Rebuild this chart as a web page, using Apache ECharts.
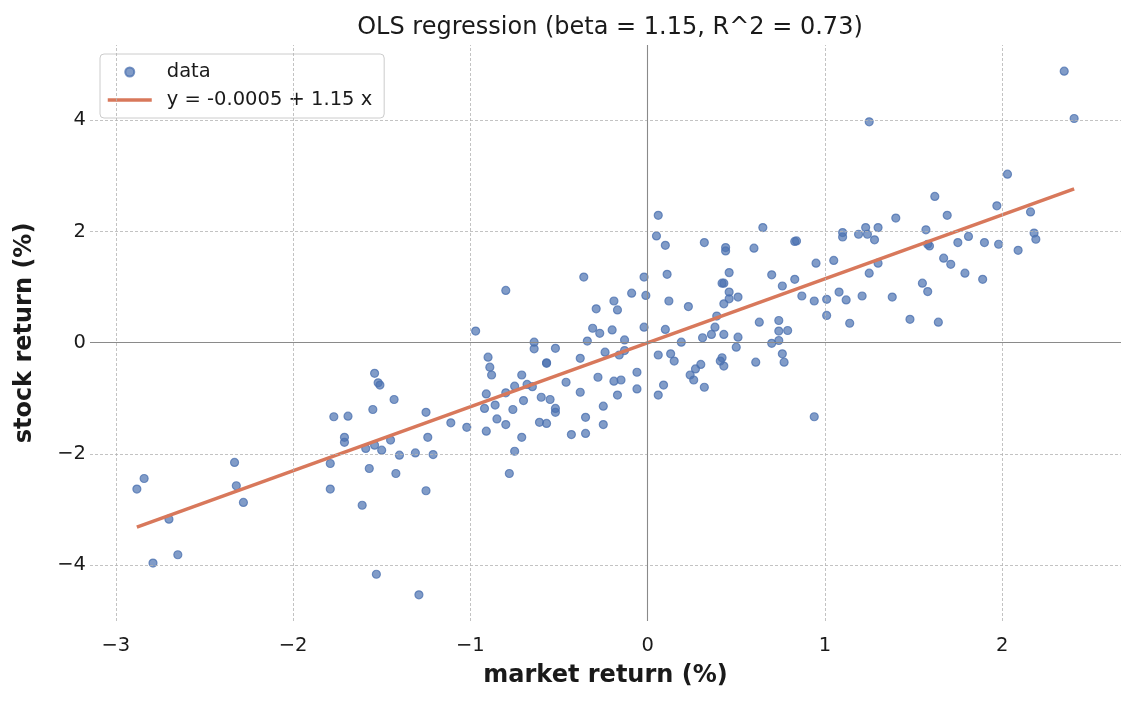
<!DOCTYPE html>
<html>
<head>
<meta charset="utf-8">
<script src="https://cdn.jsdelivr.net/npm/echarts@6/dist/echarts.min.js"></script>
<style>
  html, body { margin: 0; padding: 0; background: #fff; }
  #chart { width: 1135px; height: 701px; }
</style>
</head>
<body>
<div id="chart"></div>
<script>
var marketReturn = [
  1.25, 0.06, 0.65, 1.23, 1.30, 2.35, 2.406, 2.03, 1.62, 1.97, 2.16, 1.69, 1.40, 1.57,
  0.05, 0.10, 0.32, 0.44, 0.44, 0.60, 0.83, 0.84, 1.10, 1.10, 1.19, 1.24, 1.28, 1.30,
  0.95, 1.05, -0.02, 0.11, 0.46, 0.42, 0.43, 0.70, 0.83, 0.76, -0.09, -0.01, -0.17,
  0.12, 0.23, 0.46, 0.46, 0.43, 0.51, 0.87, 0.94, 1.01, 1.08, 1.12, 1.21, 1.25, 1.01,
  1.14, 0.39, 0.38, 0.36, 0.43, 0.31, 0.51, 0.19, 0.10, -0.02, -0.13, -0.13, -0.16,
  0.63, 0.74, 0.74, 0.79, 0.74, 0.70, 0.50, 0.76, 0.77, 0.61, 0.06, 0.13, 0.15, 0.30,
  0.27, 0.24, 0.26, 0.42, 0.41, 0.43, 0.32, 0.09, 0.06, -0.06, -0.06, -0.15, -0.17,
  0.94, -0.36, -0.80, -0.19, -0.29, -0.31, -0.27, -0.20, -0.34, -0.97, -0.64, -0.64,
  -0.52, -0.90, -0.89, -0.88, -0.57, -0.57, -0.38, -0.24, -0.28, -0.19, -0.46, -0.71,
  -0.75, -0.68, -0.65, -0.80, -0.91, -0.38, -0.60, -0.55, -0.70, -0.86, -0.52, -0.52,
  -0.25, -0.92, -0.76, -0.35, -1.54, -1.52, -1.51, -1.43, -1.55, -1.25, -0.85, -0.61,
  -0.57, -1.11, -1.02, -0.91, -0.80, -0.71, -0.75, -0.78, -0.43, -0.35, -0.25, -1.59,
  -1.54, -1.50, -1.45, -1.40, -1.31, -1.24, -1.21, -1.57, -1.42, -1.25, -1.61, -1.53,
  -1.29, -2.84, -2.881, -2.70, -2.79, -2.65, -2.33, -2.32, -2.28, -1.79, -1.79, -1.71,
  -1.71, -1.77, -1.69, 1.58, 1.59, 1.75, 1.81, 1.90, 1.98, 2.09, 2.18, 2.19, 1.67,
  1.71, 1.79, 1.89, 1.55, 1.58, 1.38, 1.48, 1.64
];
// stock return (%) of the same observations
var stockReturn = [
  3.97, 2.29, 2.07, 2.07, 2.07, 4.88, 4.03, 3.03, 2.63, 2.46, 2.35, 2.29, 2.24, 2.03,
  1.92, 1.75, 1.80, 1.71, 1.65, 1.70, 1.82, 1.83, 1.98, 1.90, 1.95, 1.95, 1.85, 1.43,
  1.43, 1.48, 1.18, 1.23, 1.26, 1.07, 1.07, 1.22, 1.14, 1.02, 0.89, 0.85, 0.59,
  0.75, 0.65, 0.91, 0.79, 0.70, 0.82, 0.84, 0.75, 0.78, 0.91, 0.77, 0.84, 1.25, 0.49,
  0.35, 0.48, 0.28, 0.15, 0.15, 0.09, 0.10, 0.01, 0.24, 0.28, 0.05, -0.14, -0.22,
  0.37, 0.40, 0.21, 0.22, 0.04, -0.01, -0.08, -0.20, -0.35, -0.35, -0.22, -0.20, -0.33, -0.39,
  -0.47, -0.58, -0.67, -0.27, -0.33, -0.42, -0.80, -0.76, -0.94, -0.53, -0.83, -0.67, -0.94,
  -1.33, 1.18, 0.94, 0.75, 0.61, 0.26, 0.17, 0.23, 0.03, 0.21, 0.01, -0.11,
  -0.10, -0.26, -0.44, -0.58, -0.37, -0.36, -0.28, -0.17, -0.62, -0.69, -0.71, -0.58,
  -0.78, -0.75, -0.79, -0.90, -0.92, -0.89, -0.98, -1.02, -1.04, -1.12, -1.18, -1.25,
  -1.14, -1.18, -1.20, -1.34, -0.55, -0.72, -0.76, -1.02, -1.20, -1.25, -1.37, -1.43,
  -1.45, -1.44, -1.52, -1.59, -1.47, -1.70, -1.95, -2.35, -1.65, -1.63, -1.47, -1.90,
  -1.84, -1.93, -1.75, -2.02, -1.98, -1.70, -2.01, -2.26, -2.35, -2.66, -2.92, -4.16,
  -4.53, -2.44, -2.63, -3.17, -3.96, -3.81, -2.15, -2.57, -2.87, -2.17, -2.63, -1.70,
  -1.79, -1.33, -1.32, 1.77, 1.74, 1.80, 1.91, 1.80, 1.77, 1.66, 1.97, 1.86, 1.52,
  1.41, 1.25, 1.14, 1.07, 0.92, 0.82, 0.42, 0.37
];
// fitted line y = a + b x, as given in the legend
var intercept = -0.0005;
var slope = 1.15;
var xTicks = [-3, -2, -1, 0, 1, 2];
var yTicks = [-4, -2, 0, 2, 4];

var points = marketReturn.map(function (x, i) { return [x, stockReturn[i]]; });
var xLo = Math.min.apply(null, marketReturn), xHi = Math.max.apply(null, marketReturn);
var yLo = Math.min.apply(null, stockReturn), yHi = Math.max.apply(null, stockReturn);
var fitLine = [[xLo, intercept + slope * xLo], [xHi, intercept + slope * xHi]];
// matplotlib-like 5% margins
var xPad = (xHi - xLo) * 0.05, yPad = (yHi - yLo) * 0.05;

var FONT = 'DejaVu Sans';
var LINE_COLOR = '#d8785b';
function minus(v) { return String(v).replace('-', '\u2212'); }

var chart = echarts.init(document.getElementById('chart'), null, { renderer: 'canvas' });

var option = {
  backgroundColor: '#ffffff',
  animation: false,
  title: {
    text: 'OLS regression (beta = 1.15, R^2 = 0.73)',
    left: 605,
    textAlign: 'center',
    top: 11,
    textStyle: { fontFamily: FONT, fontSize: 24, fontWeight: 'normal', color: '#1a1a1a' }
  },
  legend: {
    orient: 'vertical',
    left: 100,
    top: 54,
    padding: [8, 12, 8, 6],
    itemGap: 8,
    itemWidth: 44,
    itemHeight: 9,
    backgroundColor: 'rgba(255,255,255,0.8)',
    borderColor: '#cccccc',
    borderWidth: 1,
    borderRadius: 4,
    textStyle: { fontFamily: FONT, fontSize: 19.5, color: '#1a1a1a', padding: [0, 0, 0, 10] },
    data: [
      { name: 'data', icon: 'circle' },
      {
        name: 'y = -0.0005 + 1.15 x',
        itemStyle: { opacity: 0, color: 'rgba(0,0,0,0)', borderWidth: 0 },
        lineStyle: { width: 3.5, color: LINE_COLOR }
      }
    ]
  },
  grid: { left: 90, right: 14, top: 45, bottom: 80 },
  xAxis: {
    type: 'value',
    min: xLo - xPad,
    max: xHi + xPad,
    name: 'market return (%)',
    nameLocation: 'middle',
    nameGap: 43,
    nameTextStyle: { fontFamily: FONT, fontSize: 24, fontWeight: 'bold', color: '#1a1a1a' },
    axisLine: { show: false },
    axisTick: { show: false },
    splitLine: { show: false },
    axisLabel: {
      customValues: xTicks,
      margin: 15,
      fontFamily: FONT,
      fontSize: 19.5,
      color: '#1a1a1a',
      formatter: minus
    }
  },
  yAxis: {
    type: 'value',
    min: yLo - yPad,
    max: yHi + yPad,
    name: 'stock return (%)',
    nameLocation: 'middle',
    nameGap: 53,
    nameTextStyle: { fontFamily: FONT, fontSize: 24, fontWeight: 'bold', color: '#1a1a1a' },
    axisLine: { show: false },
    axisTick: { show: false },
    splitLine: { show: false },
    axisLabel: {
      customValues: yTicks,
      margin: 4,
      fontFamily: FONT,
      fontSize: 19.5,
      color: '#1a1a1a',
      formatter: minus
    }
  },
  series: [
    {
      // grid lines + zero lines
      name: 'grid',
      type: 'line',
      data: [],
      z: 1,
      silent: true,
      markLine: {
        silent: true,
        symbol: ['none', 'none'],
        label: { show: false },
        lineStyle: { type: [3, 2], color: '#b4b4b4', width: 0.8 },
        data: xTicks.map(function (v) { return { xAxis: v }; })
          .concat(yTicks.map(function (v) { return { yAxis: v }; }))
          .concat([
            { xAxis: 0, lineStyle: { type: 'solid', color: '#8a8a8a', width: 1.1 } },
            { yAxis: 0, lineStyle: { type: 'solid', color: '#8a8a8a', width: 1.1 } }
          ])
      }
    },
    {
      name: 'data',
      type: 'scatter',
      z: 3,
      symbol: 'circle',
      symbolSize: 8,
      symbolKeepAspect: true,
      itemStyle: {
        color: 'rgba(76,114,176,0.7)',
        borderColor: 'rgba(76,114,176,0.75)',
        borderWidth: 1.2,
        opacity: 1
      },
      data: points
    },
    {
      name: 'y = -0.0005 + 1.15 x',
      type: 'line',
      z: 4,
      symbol: 'none',
      lineStyle: { color: LINE_COLOR, width: 3.5 },
      itemStyle: { color: LINE_COLOR },
      data: fitLine
    }
  ]
};

chart.setOption(option);
</script>
</body>
</html>
